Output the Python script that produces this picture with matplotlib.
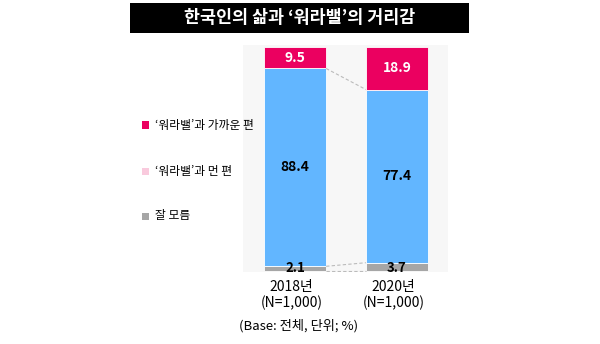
import matplotlib
matplotlib.use("Agg")
import matplotlib.pyplot as plt
from matplotlib.patches import Rectangle

plt.rcParams['font.family'] = ['Noto Sans CJK KR', 'DejaVu Sans']

title = "한국인의 삶과 ‘워라밸’의 거리감"
years = ["2018년\n(N=1,000)", "2020년\n(N=1,000)"]
near = [9.5, 18.9]      # '워라밸'과 가까운 편
far = [88.4, 77.4]      # '워라밸'과 먼 편
unknown = [2.1, 3.7]    # 잘 모름
legend_labels = ["‘워라밸’과 가까운 편", "‘워라밸’과 먼 편", "잘 모름"]
footer = "(Base: 전체, 단위; %)"

c_near = '#EB0060'
c_far = '#62B6FF'
c_unk = '#A6A6A6'
c_far_legend = '#F9CADD'

fig = plt.figure(figsize=(6, 3.44), dpi=100)
ax = fig.add_axes([243/600, 1-272/344, (448-243)/600, (272-45)/344])
ax.set_facecolor('#F7F7F7')
for s in ax.spines.values():
    s.set_visible(False)
ax.set_xticks([])
ax.set_yticks([])

x = [0, 1]
w = 0.61
b_far = unknown
b_near = [u + f for u, f in zip(unknown, far)]
ax.bar(x, unknown, w, color=c_unk, edgecolor='white', linewidth=0.6)
ax.bar(x, far, w, bottom=b_far, color=c_far, edgecolor='white', linewidth=0.6)
ax.bar(x, near, w, bottom=b_near, color=c_near, edgecolor='white', linewidth=0.6)
ax.set_xlim(-0.51, 1.5)
ax.set_ylim(-0.45, 101)

# connector lines
xl, xr = x[0] + w/2, x[1] - w/2
ax.plot([xl, xr], [b_near[0], b_near[1]], ls='--', color='#BBBBBB', lw=0.8, dashes=(3, 2))
ax.plot([xl, xr], [unknown[0], unknown[1]], ls='--', color='#BBBBBB', lw=0.8, dashes=(3, 2))
ax.plot([xl, xr], [0, 0], ls='--', color='#BBBBBB', lw=0.8, dashes=(3, 2))

for i in range(2):
    ax.text(x[i], b_near[i] + near[i]/2, f"{near[i]:.1f}", color='white', ha='center', va='center',
            fontsize=10, fontweight='bold')
    ax.text(x[i], b_far[i] + far[i]/2, f"{far[i]:.1f}", color='black', ha='center', va='center',
            fontsize=10, fontweight='bold')
    ax.text(x[i], 1.3, f"{unknown[i]:.1f}", color='black', ha='center', va='center',
            fontsize=9.5, fontweight='bold')
    ax.text(x[i] - 0.035, -4, years[i], ha='center', va='top', fontsize=10, linespacing=1.15)

# title box
fig.patches.append(Rectangle((130/600, 1-33/344), (469-130)/600, 30/344, transform=fig.transFigure,
                             facecolor='black', edgecolor='none'))
fig.text(300/600, 1-18/344, title, color='white', ha='center', va='center', fontsize=12.5, fontweight='bold')

# legend
leg_y = [125, 171, 216]
leg_c = [c_near, c_far_legend, c_unk]
for yy, cc, lab in zip(leg_y, leg_c, legend_labels):
    fig.patches.append(Rectangle((142/600, 1-(yy+3.5)/344), 7/600, 7/344, transform=fig.transFigure,
                                 facecolor=cc, edgecolor='none'))
    fig.text(155/600, 1-yy/344, lab, ha='left', va='center', fontsize=8.5)

fig.text(299/600, 1-326/344, footer, ha='center', va='center', fontsize=9.5)

fig.savefig('out.png', dpi=100)
